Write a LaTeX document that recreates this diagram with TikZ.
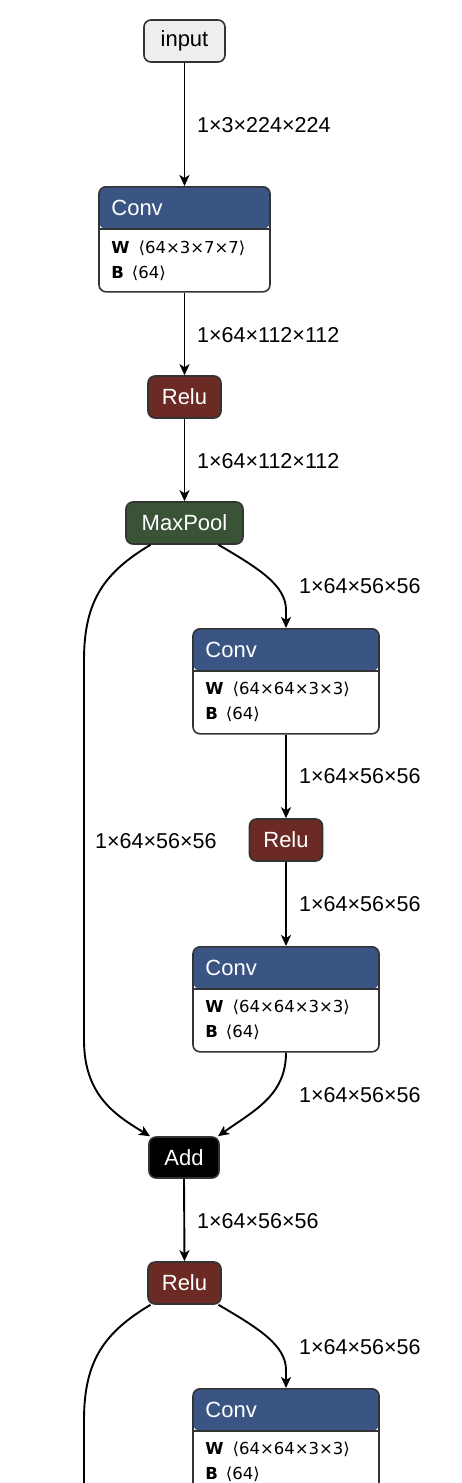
\documentclass[tikz,border=0pt]{standalone}
\usepackage{fontspec}
\setmainfont{Liberation Sans}
\newfontfamily\attrfont{DejaVu Sans}
\usetikzlibrary{arrows.meta}
\definecolor{convblue}{HTML}{3A5584}
\definecolor{relured}{HTML}{6B2B24}
\definecolor{poolgreen}{HTML}{3A5337}
\definecolor{bordergray}{HTML}{333333}
\definecolor{inputgray}{HTML}{EEEEEE}
\tikzset{
  op/.style={draw=bordergray, line width=1.6pt, rounded corners=7pt, minimum height=42pt,
    inner sep=0pt, font=\fontsize{22}{26}\selectfont, text=white},
  inputop/.style={op, fill=inputgray, text=black, minimum width=81pt},
  reluop/.style={op, fill=relured, minimum width=73pt},
  poolop/.style={op, fill=poolgreen, minimum width=117pt},
  addop/.style={op, fill=black, minimum width=70pt, minimum height=41pt},
  convop/.style={draw=bordergray, line width=1.6pt, rounded corners=7pt, fill=white,
    minimum height=105pt, inner sep=0pt, anchor=north,
    path picture={
      \fill[convblue] (path picture bounding box.north west) rectangle ([yshift=-42pt]path picture bounding box.north east);
      \draw[bordergray, line width=1.6pt] ([yshift=-42pt]path picture bounding box.north west) -- ([yshift=-42pt]path picture bounding box.north east);
    }},
  headtxt/.style={anchor=west, inner sep=0pt, text=white, font=\fontsize{22}{26}\selectfont},
  attrtxt/.style={anchor=west, inner sep=0pt, text=black, font=\attrfont\fontsize{16.5}{19}\selectfont},
  lbl/.style={anchor=west, inner sep=0pt, text=black, font=\fontsize{21.5}{25}\selectfont},
  edge/.style={draw=black, line width=1.9pt, -{Stealth[length=11pt,width=10pt,inset=3pt]}},
  plain/.style={draw=black, line width=1.9pt},
}
\newcommand{\attrW}[1]{\textbf{W}\hspace{9pt}⟨#1⟩}
\newcommand{\attrB}[1]{\textbf{B}\hspace{8pt}⟨#1⟩}
\begin{document}
\begin{tikzpicture}[x=1pt, y=-1pt]
\useasboundingbox (0,0) rectangle (462,1483);
\clip (0,0) rectangle (462,1483);
\fill[white] (0,0) rectangle (462,1483);

% nodes
\node[inputop] (in) at (184.5,41) {input};

\node[convop, minimum width=171pt] (c1) at (184.5,186) {};
\node[headtxt] (c1h) at ([xshift=13pt,yshift=-22pt]c1.north west) {Conv};
\node[attrtxt] (c1w) at ([xshift=13pt,yshift=-62pt]c1.north west) {\attrW{64×3×7×7}};
\node[attrtxt] (c1b) at ([xshift=13pt,yshift=-87pt]c1.north west) {\attrB{64}};

\node[reluop] (r1) at (184.5,397) {Relu};
\node[poolop] (mp) at (184.5,523) {MaxPool};

\node[convop, minimum width=186pt] (c2) at (286,628) {};
\node[headtxt] (c2h) at ([xshift=13pt,yshift=-22pt]c2.north west) {Conv};
\node[attrtxt] (c2w) at ([xshift=13pt,yshift=-61pt]c2.north west) {\attrW{64×64×3×3}};
\node[attrtxt] (c2b) at ([xshift=13pt,yshift=-86pt]c2.north west) {\attrB{64}};

\node[reluop] (r2) at (286,840) {Relu};

\node[convop, minimum width=186pt] (c3) at (286,946) {};
\node[headtxt] (c3h) at ([xshift=13pt,yshift=-22pt]c3.north west) {Conv};
\node[attrtxt] (c3w) at ([xshift=13pt,yshift=-61pt]c3.north west) {\attrW{64×64×3×3}};
\node[attrtxt] (c3b) at ([xshift=13pt,yshift=-86pt]c3.north west) {\attrB{64}};

\node[addop] (add) at (184,1157.5) {Add};
\node[reluop] (r3) at (184.5,1283) {Relu};

\node[convop, minimum width=186pt] (c4) at (286,1388) {};
\node[headtxt] (c4h) at ([xshift=13pt,yshift=-22pt]c4.north west) {Conv};
\node[attrtxt] (c4w) at ([xshift=13pt,yshift=-61pt]c4.north west) {\attrW{64×64×3×3}};
\node[attrtxt] (c4b) at ([xshift=13pt,yshift=-86pt]c4.north west) {\attrB{64}};

\coordinate (offbottom) at (84,1500);

% connectors
\draw[edge] (in.south) -- (c1.north);
\draw[edge] (c1.south) -- (r1.north);
\draw[edge] (r1.south) -- (mp.north);
\draw[edge] ([xshift=34pt]mp.south) .. controls (258,568) and (286,585) .. (286,610) -- (c2.north);
\draw[edge] ([xshift=-34pt]mp.south) .. controls (105,572) and (84,600) .. (84,660) -- (84,1040) .. controls (84,1095) and (115,1115) .. ([xshift=-34pt]add.north);
\draw[edge] (c2.south) -- (r2.north);
\draw[edge] (r2.south) -- (c3.north);
\draw[edge] (c3.south) .. controls (286,1095) and (255,1110) .. ([xshift=34pt]add.north);
\draw[edge] (add.south) -- (r3.north);
\draw[edge] ([xshift=34pt]r3.south) .. controls (258,1328) and (286,1345) .. (286,1370) -- (c4.north);
\draw[plain] ([xshift=-34pt]r3.south) .. controls (105,1332) and (84,1360) .. (84,1420) -- (offbottom);

% labels
\node[lbl] (l1) at (197,125) {1×3×224×224};
\node[lbl] (l2) at (197,335) {1×64×112×112};
\node[lbl] (l3) at (197,461) {1×64×112×112};
\node[lbl] (l4) at (299,586) {1×64×56×56};
\node[lbl] (l5) at (95,841) {1×64×56×56};
\node[lbl] (l6) at (299,776) {1×64×56×56};
\node[lbl] (l7) at (299,904) {1×64×56×56};
\node[lbl] (l8) at (299,1095) {1×64×56×56};
\node[lbl] (l9) at (197,1221) {1×64×56×56};
\node[lbl] (l10) at (299,1347) {1×64×56×56};
\end{tikzpicture}
\end{document}
